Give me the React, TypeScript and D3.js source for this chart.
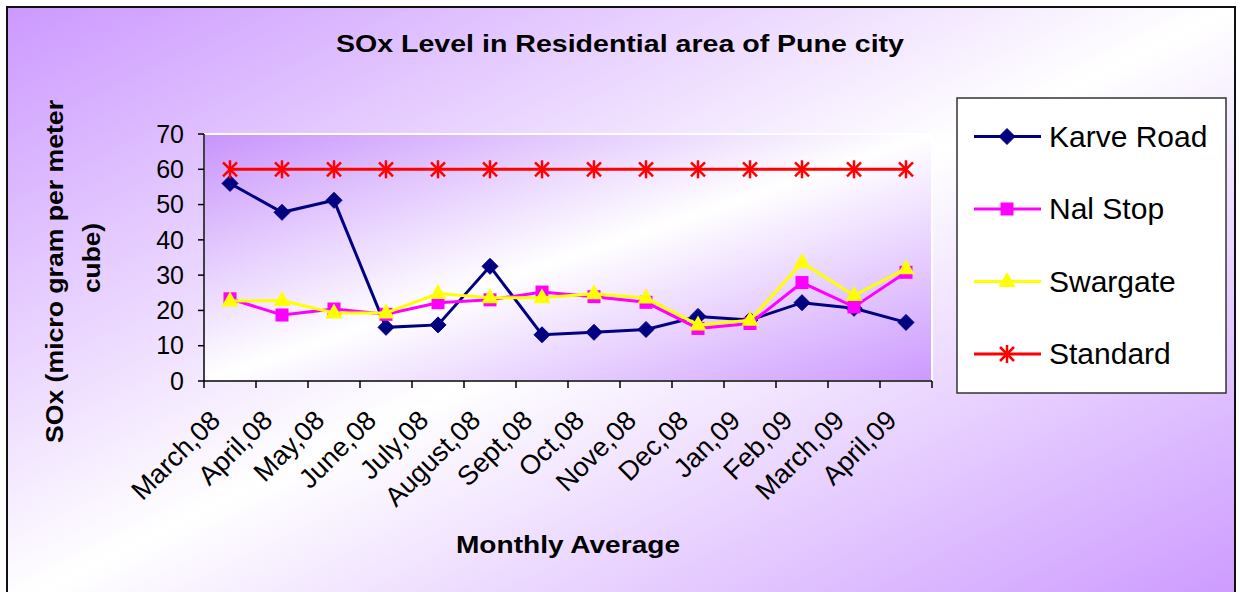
import React from "react";
import * as d3 from "d3";

const months = ["March,08", "April,08", "May,08", "June,08", "July,08", "August,08", "Sept,08", "Oct,08", "Nove,08", "Dec,08", "Jan,09", "Feb,09", "March,09", "April,09"];
const karveRoad = [56.0, 47.8, 51.2, 15.2, 15.9, 32.5, 13.1, 13.8, 14.6, 18.3, 17.3, 22.2, 20.6, 16.6];
const nalStop = [23.3, 18.7, 20.4, 18.9, 22.2, 23.0, 25.2, 23.9, 22.3, 14.9, 16.3, 27.9, 21.0, 30.8];
const swargate = [22.7, 22.8, 19.3, 19.3, 24.8, 23.6, 23.6, 24.7, 23.5, 15.9, 17.2, 33.6, 24.2, 31.8];
const standard = [60, 60, 60, 60, 60, 60, 60, 60, 60, 60, 60, 60, 60, 60];
const yTicks = [0, 10, 20, 30, 40, 50, 60, 70];
const seriesNames = ["Karve Road", "Nal Stop", "Swargate", "Standard"];

const FONT = "'Liberation Sans', Arial, sans-serif";

function Marker({ kind, color }: { kind: string; color: string }) {
  if (kind === "diamond") return <path d="M0,-8L8,0L0,8L-8,0Z" fill={color} stroke={color} strokeWidth={1} />;
  if (kind === "square") return <rect x={-6.5} y={-6.5} width={13} height={13} fill={color} />;
  if (kind === "triangle") return <path d="M0,-9.5L8.5,5.5L-8.5,5.5Z" fill={color} />;
  return (
    <g stroke={color} strokeWidth={2.5}>
      <line x1={-7} y1={-7} x2={7} y2={7} />
      <line x1={-7} y1={7} x2={7} y2={-7} />
      <line x1={0} y1={-9} x2={0} y2={9} />
    </g>
  );
}

export default function App() {
  const W = 1240, H = 592;
  const left = 204, right = 932, top = 134, bottom = 381;
  const x = d3.scaleBand<string>().domain(months).range([left, right]);
  const y = d3.scaleLinear().domain([0, 70]).range([bottom, top]);
  const cx = (i: number) => (x(months[i]) as number) + x.bandwidth() / 2;
  const line = d3.line<number>().x((_, i) => cx(i)).y((d) => y(d));

  const series = [
    { name: seriesNames[0], values: karveRoad, color: "#000080", kind: "diamond" },
    { name: seriesNames[1], values: nalStop, color: "#ff00ff", kind: "square" },
    { name: seriesNames[2], values: swargate, color: "#ffff00", kind: "triangle" },
    { name: seriesNames[3], values: standard, color: "#ff0000", kind: "star" },
  ];

  const boundaries = months.map((m) => x(m) as number).concat([right]);
  const legendY = d3.scalePoint<string>().domain(seriesNames).range([136.5, 354]);

  return (
    <svg width={W} height={H} style={{ position: "absolute", left: 0, top: 0, display: "block" }} fontFamily={FONT}>
      <defs>
        <linearGradient id="bg" x1="0" y1="0" x2="1" y2="1">
          <stop offset="0" stopColor="#cc99ff" />
          <stop offset="0.5" stopColor="#ffffff" />
          <stop offset="1" stopColor="#cc99ff" />
        </linearGradient>
        <linearGradient id="plotbg" x1="0" y1="0" x2="1" y2="1">
          <stop offset="0" stopColor="#c894fc" />
          <stop offset="0.5" stopColor="#ffffff" />
          <stop offset="1" stopColor="#cc99ff" />
        </linearGradient>
      </defs>
      <rect x={0} y={0} width={W} height={H} fill="#ffffff" />
      <rect x={7} y={7} width={1228} height={600} fill="url(#bg)" stroke="#111" strokeWidth={2} />

      <text x={620} y={52} textAnchor="middle" fontSize={24} fontWeight="bold" textLength={568} lengthAdjust="spacingAndGlyphs">
        SOx Level in Residential area of Pune city
      </text>

      <rect x={left} y={top} width={right - left} height={bottom - top} fill="url(#plotbg)" stroke="#ffffff" strokeWidth={2} />

      {/* y axis */}
      <line x1={left} y1={top} x2={left} y2={bottom} stroke="#000" strokeWidth={1.5} />
      {yTicks.map((t) => (
        <g key={t}>
          <line x1={left - 6} x2={left} y1={y(t)} y2={y(t)} stroke="#000" strokeWidth={1.5} />
          <text x={left - 20} y={y(t)} dy="0.35em" textAnchor="end" fontSize={25}>{t}</text>
        </g>
      ))}

      {/* x axis */}
      <line x1={left} y1={bottom} x2={right} y2={bottom} stroke="#000" strokeWidth={1.5} />
      {boundaries.map((b, i) => (
        <line key={i} x1={b} x2={b} y1={bottom} y2={bottom + 7} stroke="#000" strokeWidth={1.5} />
      ))}
      {months.map((m, i) => (
        <text key={m} transform={`translate(${cx(i) - 8},${422}) rotate(-45)`} textAnchor="end" fontSize={27}>{m}</text>
      ))}

      <text x={(left + right) / 2} y={553} textAnchor="middle" fontSize={24} fontWeight="bold" textLength={224} lengthAdjust="spacingAndGlyphs">
        Monthly Average
      </text>

      <text transform="translate(63,271.5) rotate(-90)" textAnchor="middle" fontSize={24} fontWeight="bold" textLength={343} lengthAdjust="spacingAndGlyphs">
        SOx (micro gram per meter
      </text>
      <text transform="translate(100,258) rotate(-90)" textAnchor="middle" fontSize={24} fontWeight="bold" textLength={70} lengthAdjust="spacingAndGlyphs">
        cube)
      </text>

      {series.map((s) => (
        <g key={s.name}>
          <path d={line(s.values) || ""} fill="none" stroke={s.color} strokeWidth={3} />
          {s.values.map((v, i) => (
            <g key={i} transform={`translate(${cx(i)},${y(v)})`}>
              <Marker kind={s.kind} color={s.color} />
            </g>
          ))}
        </g>
      ))}

      {/* legend */}
      <rect x={957} y={98} width={269} height={295} fill="#ffffff" stroke="#333" strokeWidth={1.5} />
      {series.map((s) => {
        const ly = legendY(s.name) as number;
        return (
          <g key={s.name}>
            <line x1={974} x2={1041} y1={ly} y2={ly} stroke={s.color} strokeWidth={3} />
            <g transform={`translate(1007,${ly})`}>
              <Marker kind={s.kind} color={s.color} />
            </g>
            <text x={1049} y={ly + 10} fontSize={30}>{s.name}</text>
          </g>
        );
      })}
    </svg>
  );
}
